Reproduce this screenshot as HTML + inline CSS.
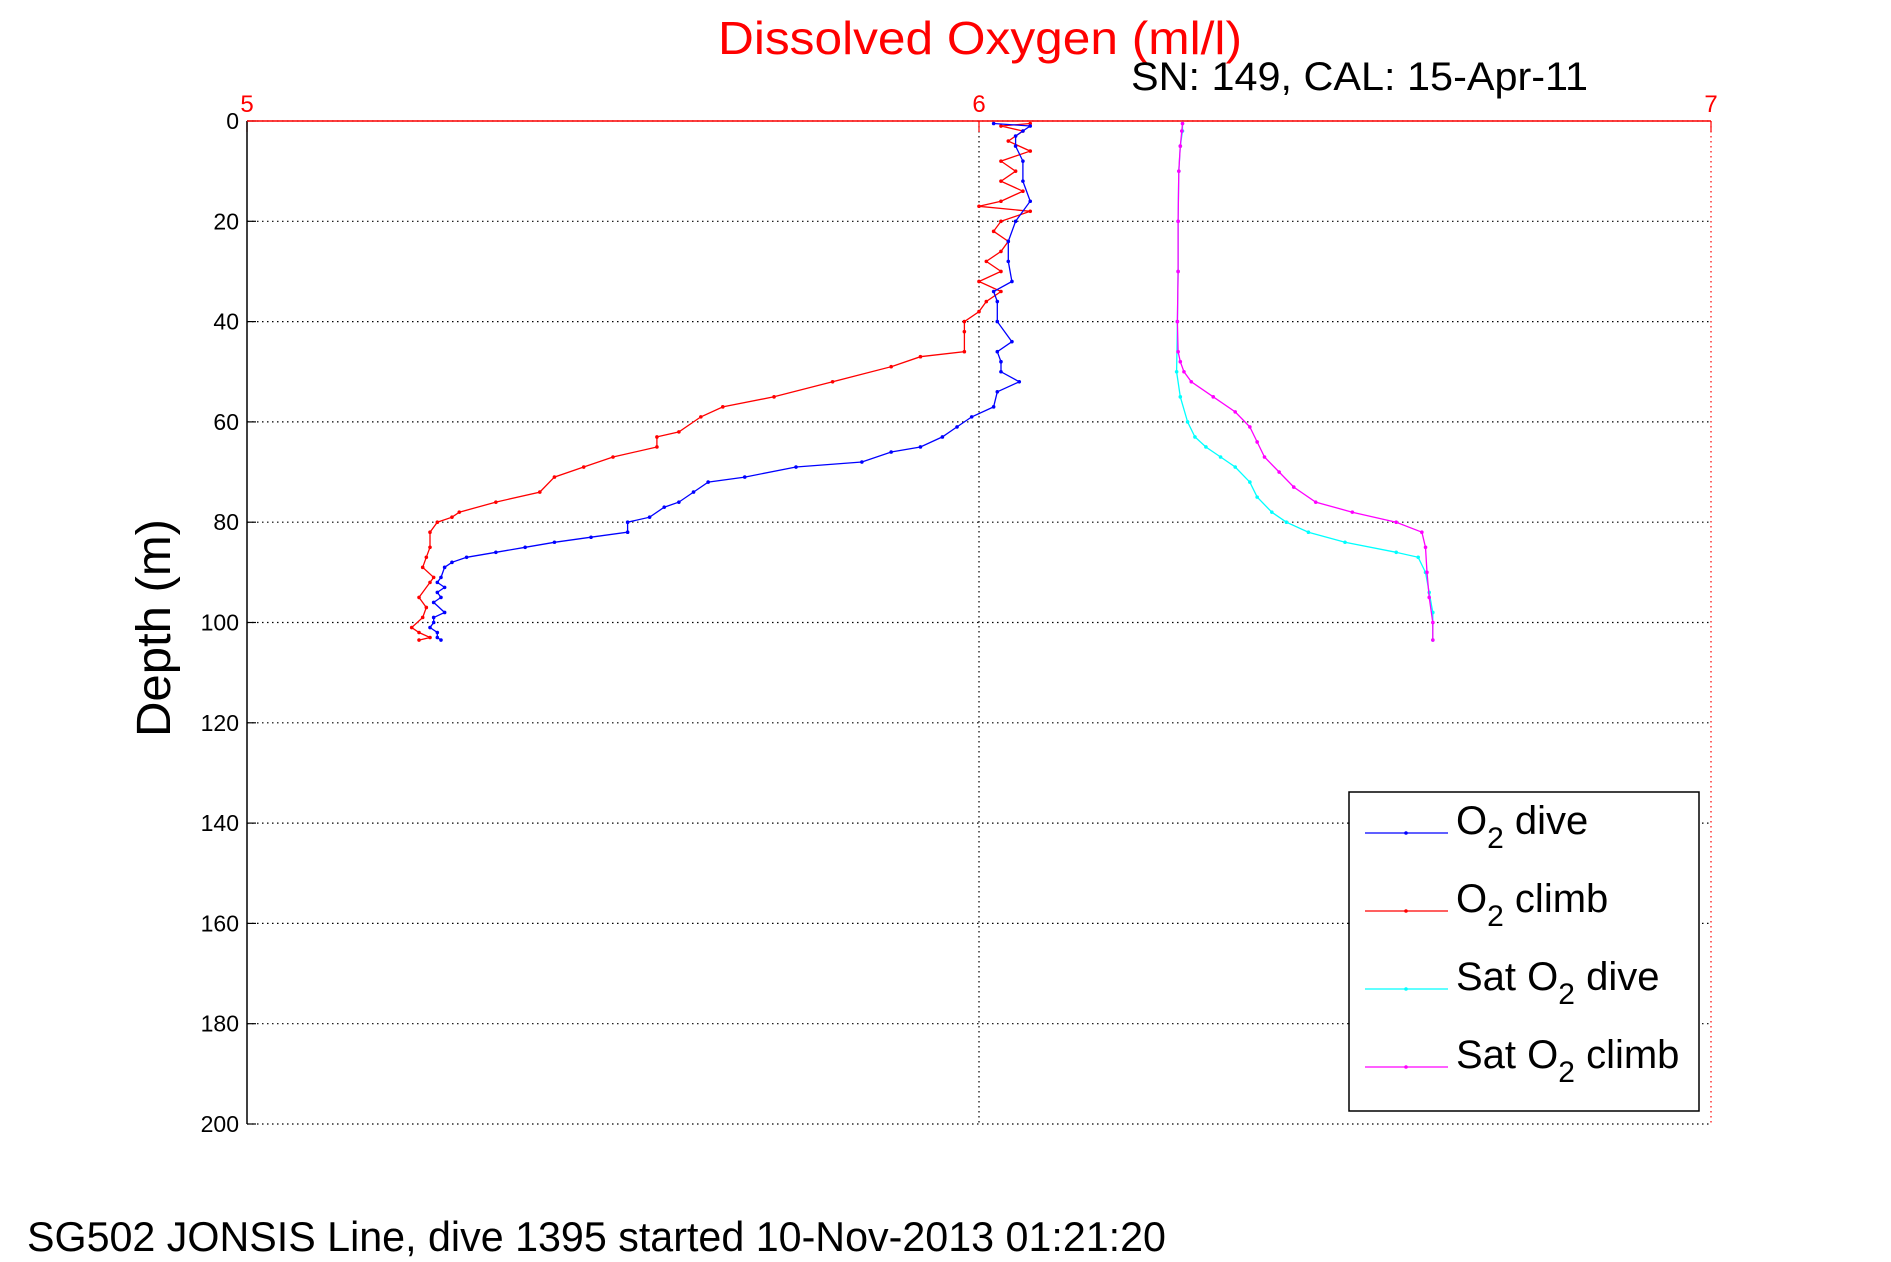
<!DOCTYPE html>
<html><head><meta charset="utf-8"><style>
body{margin:0;background:#fff;}
svg{display:block;font-family:"Liberation Sans",sans-serif;}
</style></head><body>
<svg id="chart" width="1891" height="1262" xmlns="http://www.w3.org/2000/svg">
<text x="980" y="54" text-anchor="middle" font-size="46" fill="#ff0000" textLength="524" lengthAdjust="spacingAndGlyphs">Dissolved Oxygen (ml/l)</text>
<text x="1131" y="90" font-size="40" fill="#000" textLength="457" lengthAdjust="spacingAndGlyphs">SN: 149, CAL: 15-Apr-11</text>
<text transform="translate(170,628) rotate(-90)" text-anchor="middle" font-size="48" fill="#000" textLength="218" lengthAdjust="spacingAndGlyphs">Depth (m)</text>
<text x="27" y="1251" font-size="42" fill="#000" textLength="1139" lengthAdjust="spacingAndGlyphs">SG502 JONSIS Line, dive 1395 started 10-Nov-2013 01:21:20</text>
<g id="grid"></g>
<g id="axes"></g>
<g id="series"></g>
<g transform="translate(-7,-2)">
<rect x="1356" y="794" width="350" height="319" fill="#fff" stroke="#000" stroke-width="1.5"/>
<g><line x1="1372" y1="835" x2="1455" y2="835" stroke="#0000ff" stroke-width="1.2"/><circle cx="1413" cy="835" r="1.8" fill="#0000ff"/><text x="1463" y="836" font-size="40">O<tspan font-size="30" dy="14">2</tspan><tspan dy="-14"> dive</tspan></text></g>
<g><line x1="1372" y1="913" x2="1455" y2="913" stroke="#ff0000" stroke-width="1.2"/><circle cx="1413" cy="913" r="1.8" fill="#ff0000"/><text x="1463" y="914" font-size="40">O<tspan font-size="30" dy="14">2</tspan><tspan dy="-14"> climb</tspan></text></g>
<g><line x1="1372" y1="991" x2="1455" y2="991" stroke="#00ffff" stroke-width="1.2"/><circle cx="1413" cy="991" r="1.8" fill="#00ffff"/><text x="1463" y="992" font-size="40">Sat O<tspan font-size="30" dy="14">2</tspan><tspan dy="-14"> dive</tspan></text></g>
<g><line x1="1372" y1="1069" x2="1455" y2="1069" stroke="#ff00ff" stroke-width="1.2"/><circle cx="1413" cy="1069" r="1.8" fill="#ff00ff"/><text x="1463" y="1070" font-size="40">Sat O<tspan font-size="30" dy="14">2</tspan><tspan dy="-14"> climb</tspan></text></g>
</g>
</svg>
<script>
const xTicks=[5,6,7];
const yTicks=[0,20,40,60,80,100,120,140,160,180,200];
const diveDepth=[0.5,1,2,3,5,8,12,16,20,24,28,32,34,36,40,44,46,48,50,52,54,57,59,61,63,65,66,68,69,71,72,74,76,77,79,80,82,83,84,85,86,87,88,89,91,92,93,94,95,96,98,99,100,101,102,103,103.5];
const diveO2=[6.02,6.07,6.06,6.05,6.05,6.06,6.06,6.07,6.05,6.04,6.04,6.045,6.02,6.025,6.025,6.045,6.025,6.03,6.03,6.055,6.025,6.02,5.99,5.97,5.95,5.92,5.88,5.84,5.75,5.68,5.63,5.61,5.59,5.57,5.55,5.52,5.52,5.47,5.42,5.38,5.34,5.3,5.28,5.27,5.265,5.26,5.27,5.26,5.265,5.255,5.27,5.255,5.255,5.25,5.26,5.26,5.265];
const climbDepth=[0.5,1,2,4,6,8,10,12,14,16,17,18,20,22,24,26,28,30,32,34,36,38,40,42,46,47,49,52,55,57,59,62,63,65,67,69,71,74,76,78,79,80,82,85,87,89,91,92,95,97,99,101,102,103,103.5];
const climbO2=[6.07,6.03,6.06,6.04,6.07,6.03,6.05,6.03,6.06,6.03,6.0,6.07,6.03,6.02,6.04,6.03,6.01,6.03,6.0,6.03,6.01,6.0,5.98,5.98,5.98,5.92,5.88,5.8,5.72,5.65,5.62,5.59,5.56,5.56,5.5,5.46,5.42,5.4,5.34,5.29,5.28,5.26,5.25,5.25,5.245,5.24,5.255,5.25,5.235,5.245,5.24,5.225,5.235,5.25,5.235];
const satDiveDepth=[0.5,2,5,10,20,30,40,50,55,60,63,65,67,69,72,75,78,80,82,84,86,87,90,94,98,103.5];
const satDiveO2=[6.278,6.278,6.275,6.273,6.272,6.272,6.271,6.270,6.275,6.285,6.295,6.31,6.33,6.35,6.37,6.38,6.40,6.42,6.45,6.50,6.57,6.60,6.61,6.615,6.62,6.62];
const satClimbDepth=[0.5,2,5,10,20,30,40,46,48,50,52,55,58,61,64,67,70,73,76,78,80,82,85,90,95,100,103.5];
const satClimbO2=[6.278,6.277,6.275,6.273,6.272,6.272,6.271,6.272,6.275,6.28,6.29,6.32,6.35,6.37,6.38,6.39,6.41,6.43,6.46,6.51,6.57,6.605,6.61,6.612,6.615,6.62,6.62];

const L=247,R=1711,T=121,B=1124;
const xs=v=>L+(v-5)/(7-5)*(R-L);
const ys=d=>T+d/200*(B-T);
const NS='http://www.w3.org/2000/svg';
function mk(tag,attrs,parent){const e=document.createElementNS(NS,tag);for(const k in attrs)e.setAttribute(k,attrs[k]);parent.appendChild(e);return e;}
const grid=document.getElementById('grid'),axes=document.getElementById('axes'),ser=document.getElementById('series');
yTicks.forEach(t=>{
  const g=mk('line',{x1:L,x2:R,y1:ys(t),y2:ys(t),stroke:'#000','stroke-width':1.2,'stroke-dasharray':'1.5,3.5'},grid);
  
  
  const tk=mk('line',{x1:L,x2:L+9,y1:ys(t),y2:ys(t),stroke:'#000','stroke-width':1.2},axes);
  
  
  const tx=mk('text',{x:L-8,y:ys(t)+8,'text-anchor':'end','font-size':23,fill:'#000'},axes);
  tx.textContent=t;
  
  
});
xTicks.forEach(t=>{
  if(t>5){const g=mk('line',{x1:xs(t),x2:xs(t),y1:T,y2:B,stroke:t===7?'#ff0000':'#000','stroke-width':1.2,'stroke-dasharray':'1.5,3.5'},grid);
  
  }
  const tk=mk('line',{x1:xs(t),x2:xs(t),y1:T,y2:T+11,stroke:'#ff0000','stroke-width':1.2},axes);
  
  
  const tx=mk('text',{x:xs(t),y:T-9,'text-anchor':'middle','font-size':24,fill:'#ff0000'},axes);
  tx.textContent=t;
  
  
});
const la=mk('line',{x1:L,x2:L,y1:T,y2:B,stroke:'#000','stroke-width':1.5},axes);


const ta=mk('line',{x1:L,x2:R,y1:T,y2:T,stroke:'#ff0000','stroke-width':1.5},axes);


function draw(depths,vals,color,name){
  const g=mk('g',{},ser);
  
  
  const pts=depths.map((d,i)=>xs(vals[i]).toFixed(1)+','+ys(d).toFixed(1)).join(' ');
  const p=mk('polyline',{points:pts,fill:'none',stroke:color,'stroke-width':1.3},g);
  
  
  depths.forEach((d,i)=>{const c=mk('circle',{cx:xs(vals[i]),cy:ys(d),r:1.8,fill:color},g);
    
    });
}
draw(satDiveDepth,satDiveO2,'#00ffff','sat-o2-dive-series');
draw(satClimbDepth,satClimbO2,'#ff00ff','sat-o2-climb-series');
draw(climbDepth,climbO2,'#ff0000','o2-climb-series');
draw(diveDepth,diveO2,'#0000ff','o2-dive-series');
</script>
</body></html>
